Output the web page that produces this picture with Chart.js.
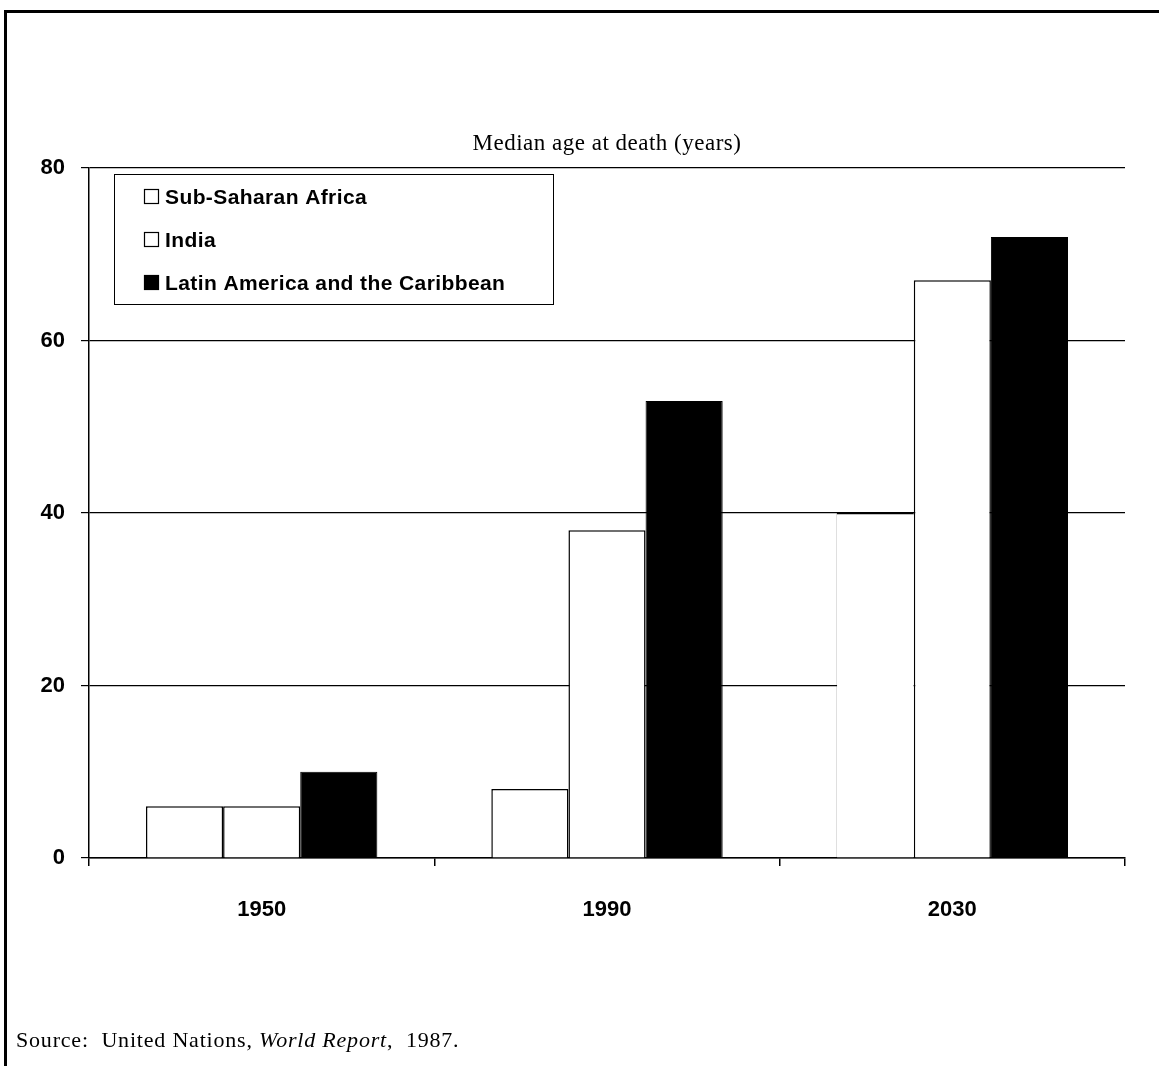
<!DOCTYPE html>
<html>
<head>
<meta charset="utf-8">
<script src="https://cdn.jsdelivr.net/npm/chart.js@4/dist/chart.umd.min.js"></script>
<style>
  html, body { margin: 0; padding: 0; background: #fff; }
  #wrap { position: relative; width: 1159px; height: 1066px; overflow: hidden; }
  #frame { position: absolute; left: 4px; top: 10px; width: 1200px; height: 1100px;
           border-top: 3px solid #000; border-left: 3px solid #000; box-sizing: border-box; }
  canvas { position: absolute; left: 0; top: 0; }
  #source { position: absolute; left: 16px; top: 1027px; font-family: "Liberation Serif", "DejaVu Serif", serif;
            font-size: 22px; letter-spacing: 0.8px; color: #000; white-space: nowrap; }
</style>
</head>
<body>
<div id="wrap">
  <div id="frame"></div>
  <canvas id="chart" width="1159" height="1066"></canvas>
  <div id="source">Source:&nbsp; United Nations, <i>World Report</i>,&nbsp; 1987.</div>
</div>
<script>
// Median age at death, by region and year
const categories = ['1950', '1990', '2030'];
const seriesNames = ['Sub-Saharan Africa', 'India', 'Latin America and the Caribbean'];
const subSaharanAfrica = [6, 8, 40];
const india = [6, 38, 67];
const latinAmerica = [10, 53, 72];
const yTicks = [0, 20, 40, 60, 80];
const chartTitle = 'Median age at death (years)';

const sansBold = { family: '"Liberation Sans", Arial, sans-serif', size: 22, weight: 'bold' };

// Title centred over the plot area
const plotTitle = {
  id: 'plotTitle',
  afterDraw(chart) {
    const ctx = chart.ctx;
    const a = chart.chartArea;
    ctx.save();
    ctx.font = '23px "Liberation Serif", "DejaVu Serif", serif';
    ctx.letterSpacing = '0.5px';
    ctx.fillStyle = '#000';
    ctx.textAlign = 'center';
    ctx.textBaseline = 'alphabetic';
    ctx.fillText(chartTitle, (a.left + a.right) / 2, 150);
    ctx.restore();
  }
};

// Legend box drawn inside the plot area, upper left
const insetLegend = {
  id: 'insetLegend',
  afterDraw(chart) {
    const ctx = chart.ctx;
    const x0 = 114.5, y0 = 174.5, w = 439, h = 130;
    ctx.save();
    ctx.fillStyle = '#fff';
    ctx.fillRect(x0, y0, w, h);
    ctx.strokeStyle = '#000';
    ctx.lineWidth = 1;
    ctx.strokeRect(x0, y0, w, h);
    ctx.font = 'bold 21px "Liberation Sans", Arial, sans-serif';
    ctx.letterSpacing = '0.4px';
    ctx.textBaseline = 'middle';
    ctx.textAlign = 'left';
    chart.data.datasets.forEach((ds, i) => {
      const cy = 197 + i * 43;
      ctx.fillStyle = ds.backgroundColor;
      ctx.fillRect(144.5, cy - 7.5, 14, 14);
      ctx.strokeStyle = '#000';
      ctx.lineWidth = 1.2;
      ctx.strokeRect(144.5, cy - 7.5, 14, 14);
      ctx.fillStyle = '#000';
      ctx.fillText(ds.label, 165, cy + 1);
    });
    ctx.restore();
  }
};

// The 2030 Sub-Saharan bar has a faint left edge in the printed figure
const ssaBorder = (c) => c.dataIndex === 2 ? { top: 1.5, left: 0.4, right: 0, bottom: 0 } : 1.5;

new Chart(document.getElementById('chart'), {
  type: 'bar',
  data: {
    labels: categories,
    datasets: [
      { label: seriesNames[0], data: subSaharanAfrica, backgroundColor: '#fff', borderColor: '#000', borderWidth: ssaBorder },
      { label: seriesNames[1], data: india, backgroundColor: '#fff', borderColor: '#000', borderWidth: 1.5 },
      { label: seriesNames[2], data: latinAmerica, backgroundColor: '#000', borderColor: '#000', borderWidth: 1 }
    ]
  },
  options: {
    responsive: false,
    animation: false,
    devicePixelRatio: 1,
    layout: { padding: { left: 0, right: 34, top: 168, bottom: 0 } },
    datasets: { bar: { categoryPercentage: 0.67, barPercentage: 1.0, borderSkipped: 'start' } },
    plugins: {
      legend: { display: false },
      tooltip: { enabled: false },
      title: { display: false }
    },
    scales: {
      x: {
        grid: { display: true, drawOnChartArea: false, drawTicks: true, tickLength: 8, color: '#000', lineWidth: 1.5, offset: true },
        border: { display: true, color: '#000', width: 1.5 },
        ticks: { color: '#000', font: sansBold, padding: 31 },
        afterFit(scale) { scale.height = 208; }
      },
      y: {
        min: 0,
        max: 80,
        afterBuildTicks(scale) { scale.ticks = yTicks.map(v => ({ value: v })); },
        grid: { color: '#000', lineWidth: 1.2, drawTicks: true, tickLength: 8 },
        border: { display: true, color: '#000', width: 1.5 },
        ticks: { color: '#000', font: sansBold, padding: 16 },
        afterFit(scale) { scale.width = 89; }
      }
    }
  },
  plugins: [plotTitle, insetLegend]
});
</script>
</body>
</html>
